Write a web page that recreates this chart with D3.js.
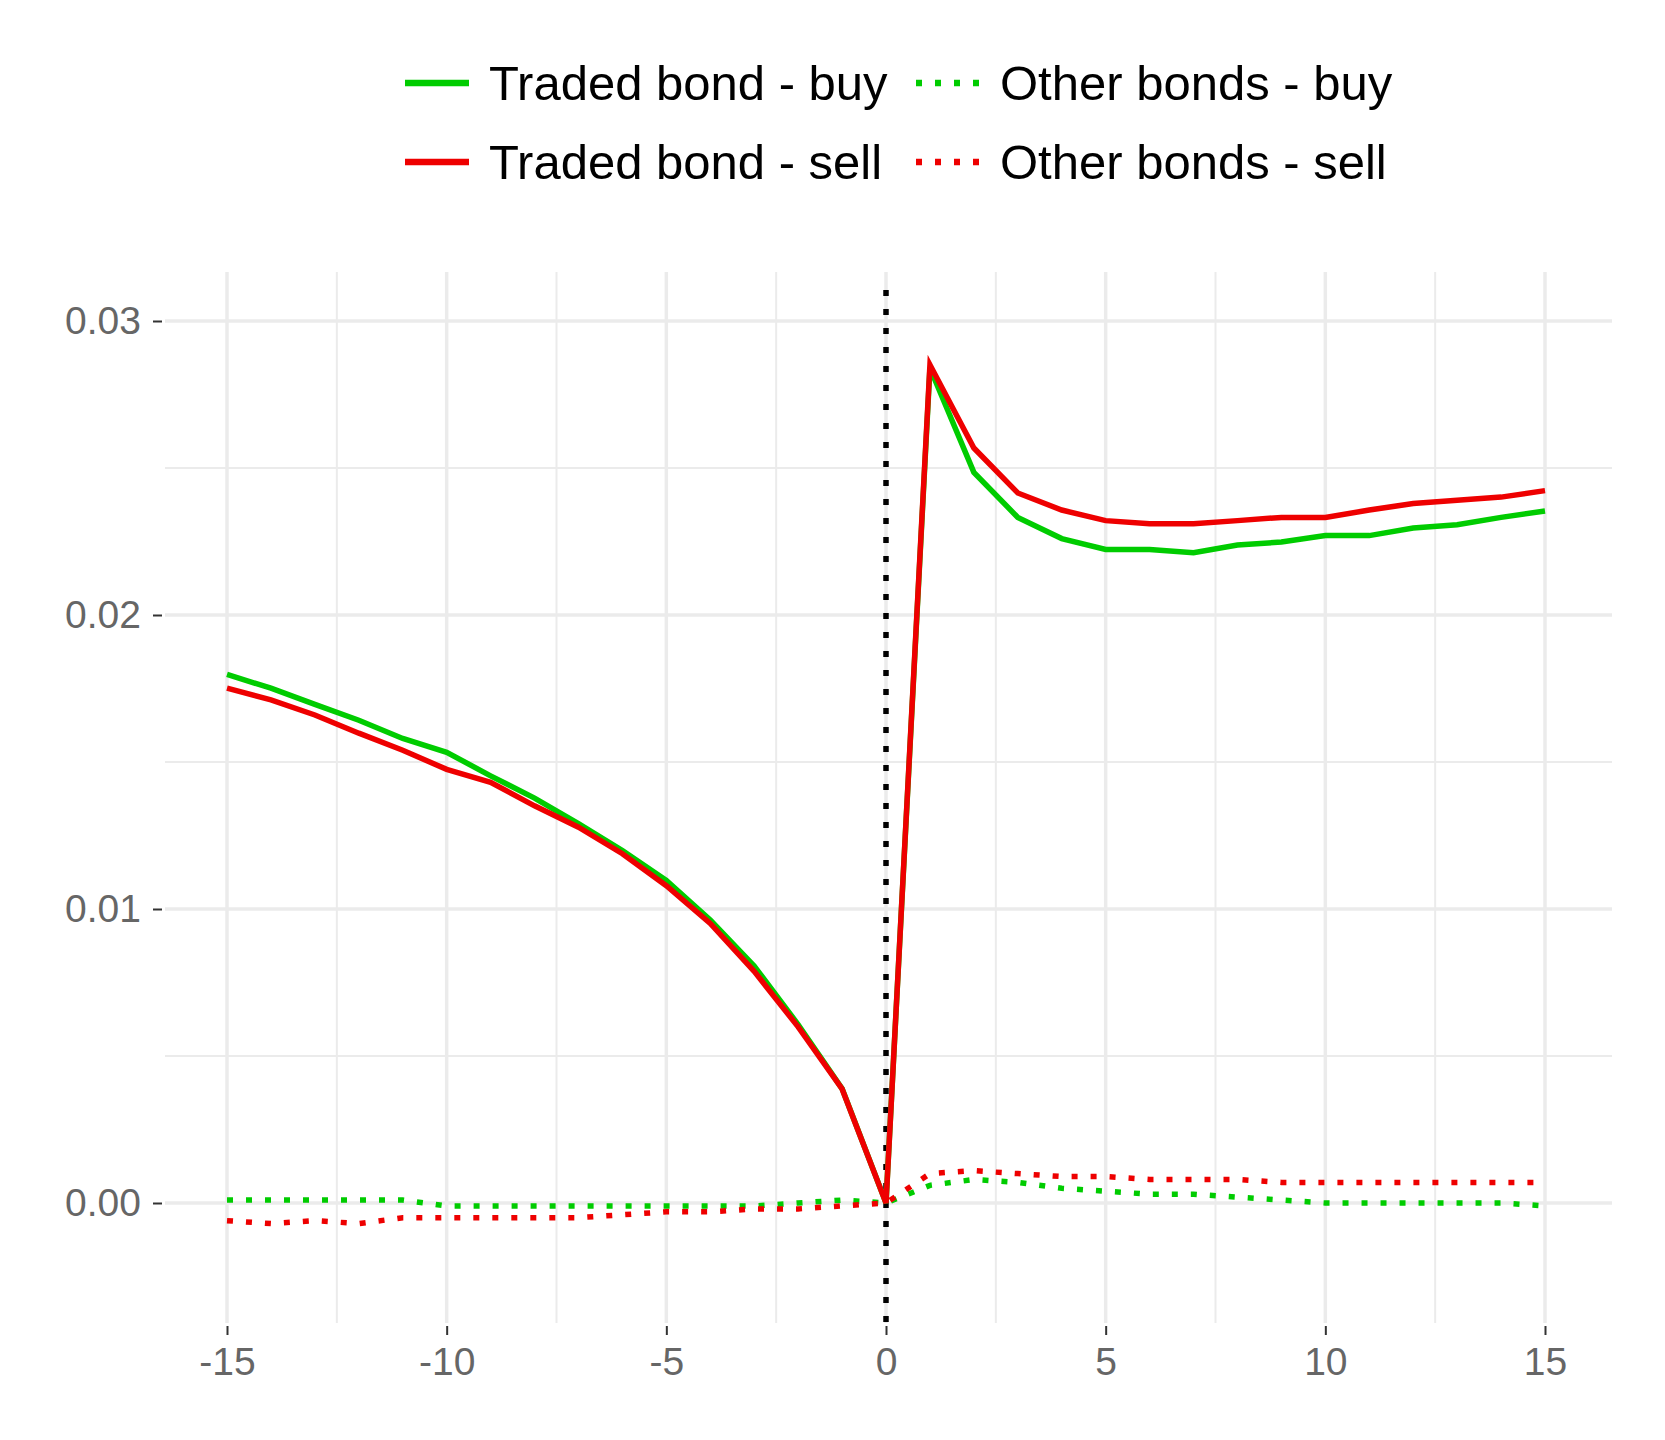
<!DOCTYPE html>
<html><head><meta charset="utf-8">
<script src="https://cdn.jsdelivr.net/npm/d3@7"></script>
<style>body{margin:0;background:#fff}</style></head>
<body><div id="chart"></div>
<script>
// event time
const days = d3.range(-15, 16);
const tradedBuy = [0.01798,0.01751,0.01696,0.01642,0.0158,0.01533,0.01453,0.01377,0.0129,0.01199,0.01097,0.00963,0.00806,0.00607,0.00389,0,
  0.0284,0.02485,0.02332,0.0226,0.02223,0.02223,0.02212,0.02238,0.02248,0.0227,0.0227,0.02296,0.02307,0.02332,0.02354];
const tradedSell = [0.01751,0.01711,0.0166,0.01598,0.0154,0.01475,0.01431,0.01351,0.01278,0.01188,0.01079,0.00951,0.00788,0.00599,0.00388,0,
  0.02851,0.02568,0.02415,0.02357,0.02321,0.0231,0.0231,0.02321,0.02332,0.02332,0.02357,0.02379,0.0239,0.02401,0.02423];
const otherBuy = [0.0001,0.0001,0.0001,0.0001,0.0001,-0.0001,-0.0001,-0.0001,-0.0001,-0.0001,-0.0001,-0.0001,-0.0001,0,0.0001,0,
  0.0006,0.0008,0.0007,0.0005,0.0004,0.0003,0.0003,0.0002,0.0001,0,0,0,0,0,-0.0001];
const otherSell = [-0.0006,-0.0007,-0.0006,-0.0007,-0.0005,-0.0005,-0.0005,-0.0005,-0.0005,-0.0004,-0.0003,-0.0003,-0.0002,-0.0002,-0.0001,0,
  0.001,0.0011,0.001,0.0009,0.0009,0.0008,0.0008,0.0008,0.0007,0.0007,0.0007,0.0007,0.0007,0.0007,0.0007];
const xTicks = [-15,-10,-5,0,5,10,15];
const yTicks = [0,0.01,0.02,0.03];

const series = [
  {name:"Traded bond - buy", values:tradedBuy, color:"#00cc00", dash:null},
  {name:"Other bonds - buy", values:otherBuy, color:"#00cc00", dash:"6,13"},
  {name:"Traded bond - sell", values:tradedSell, color:"#ee0000", dash:null},
  {name:"Other bonds - sell", values:otherSell, color:"#ee0000", dash:"6,13"}
];

const W = 1665, H = 1440;
const L = 165, R = 1612, T = 272, B = 1323;
const svg = d3.select("#chart").append("svg").attr("width", W).attr("height", H)
  .style("font-family", "Liberation Sans, Arial, sans-serif");

const x = d3.scaleLinear().domain([-15, 15]).range([227, 1545]);
const y = d3.scaleLinear().domain([0, 0.03]).range([1203, 321]);

/* Grid lines, minor then major. */
const grid = svg.append("g").attr("stroke", "#ebebeb");
d3.range(-12.5, 15, 5).forEach(v => grid.append("line")
  .attr("x1", x(v)).attr("x2", x(v)).attr("y1", T).attr("y2", B).attr("stroke-width", 2));
[0.005, 0.015, 0.025].forEach(v => grid.append("line")
  .attr("x1", L).attr("x2", R).attr("y1", y(v)).attr("y2", y(v)).attr("stroke-width", 2));
xTicks.forEach(v => grid.append("line")
  .attr("x1", x(v)).attr("x2", x(v)).attr("y1", T).attr("y2", B).attr("stroke-width", 3.5));
yTicks.forEach(v => grid.append("line")
  .attr("x1", L).attr("x2", R).attr("y1", y(v)).attr("y2", y(v)).attr("stroke-width", 3.5));

/* Axes */
const xAxis = svg.append("g").attr("transform", `translate(0,${B + 3})`)
  .call(d3.axisBottom(x).tickValues(xTicks).tickSize(9).tickPadding(12).tickFormat(d3.format("d")));
const yAxis = svg.append("g").attr("transform", `translate(${L - 3},0)`)
  .call(d3.axisLeft(y).tickValues(yTicks).tickSize(9).tickPadding(12).tickFormat(d3.format(".2f")));
[xAxis, yAxis].forEach(a => {
  a.select(".domain").remove();
  a.selectAll("line").attr("stroke", "#333").attr("stroke-width", 2);
  a.selectAll("text").attr("fill", "#666").style("font-size", "39px").text(function(){return this.textContent.replace("−","-");});
});

/* Zero line */
svg.append("line").attr("x1", x(0)).attr("x2", x(0)).attr("y1", 290).attr("y2", B)
  .attr("stroke", "#000").attr("stroke-width", 5.5).attr("stroke-dasharray", "6,13");

const line = d3.line().x((d, i) => x(days[i])).y(d => y(d));
series.forEach(s => svg.append("path").datum(s.values).attr("d", line)
  .attr("fill", "none").attr("stroke", s.color).attr("stroke-width", 5.5)
  .attr("stroke-dasharray", s.dash));

/* Legend */
const leg = svg.append("g");
series.forEach((s, i) => {
  const col = i % 2, row = Math.floor(i / 2);
  const lx = col ? 916 : 405, ly = row ? 162 : 83;
  leg.append("line").attr("x1", lx).attr("x2", lx + 64).attr("y1", ly).attr("y2", ly)
    .attr("stroke", s.color).attr("stroke-width", 6.5).attr("stroke-dasharray", s.dash);
  leg.append("text").attr("x", lx + 84).attr("y", ly + 17).text(s.name)
    .style("font-size", "49px").attr("fill", "#000");
});
</script></body></html>
